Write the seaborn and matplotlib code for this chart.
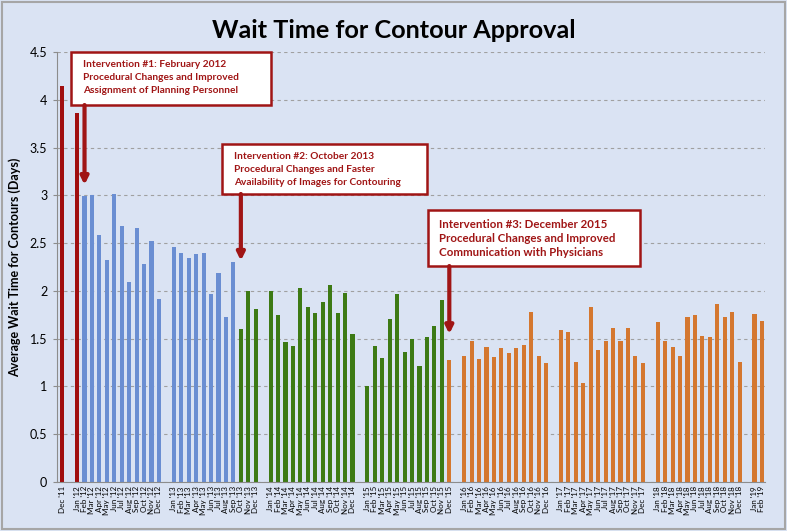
import numpy as np
import pandas as pd
import matplotlib.pyplot as plt
import seaborn as sns
from matplotlib.patches import Rectangle

# monthly average wait time (days)
wait_2011 = [4.14]
wait_2012 = [3.86, 2.99, 3.00, 2.58, 2.32, 3.01, 2.68, 2.09, 2.66, 2.28, 2.52, 1.91]
wait_2013 = [2.46, 2.40, 2.34, 2.39, 2.40, 1.97, 2.19, 1.73, 2.30, 1.60, 2.00, 1.81]
wait_2014 = [2.00, 1.75, 1.46, 1.42, 2.03, 1.83, 1.77, 1.88, 2.06, 1.77, 1.98, 1.55]
wait_2015 = [1.00, 1.42, 1.30, 1.71, 1.97, 1.36, 1.50, 1.21, 1.52, 1.63, 1.90, 1.28]
wait_2016 = [1.32, 1.48, 1.29, 1.41, 1.31, 1.40, 1.35, 1.40, 1.43, 1.78, 1.32, 1.24]
wait_2017 = [1.59, 1.57, 1.26, 1.04, 1.83, 1.38, 1.48, 1.61, 1.48, 1.61, 1.32, 1.24]
wait_2018 = [1.67, 1.48, 1.41, 1.32, 1.73, 1.75, 1.53, 1.52, 1.86, 1.73, 1.78, 1.26]
wait_2019 = [1.76, 1.68]

months = ['Jan', 'Feb', 'Mar', 'Apr', 'May', 'Jun', 'Jul', 'Aug', 'Sep', 'Oct', 'Nov', 'Dec']
year_blocks = [('11', months[11:], wait_2011), ('12', months, wait_2012), ('13', months, wait_2013),
               ('14', months, wait_2014), ('15', months, wait_2015), ('16', months, wait_2016),
               ('17', months, wait_2017), ('18', months, wait_2018), ('19', months[:2], wait_2019)]

# first month of each phase
phase_starts = ["Dec '11", "Feb '12", "Oct '13", "Dec '15"]
phases = ['baseline', 'int1', 'int2', 'int3']
phase_colors = {'baseline': '#A00E0E', 'int1': '#6A8ED2', 'int2': '#3D7A14', 'int3': '#D4772F'}

notes = [["Intervention #1: February 2012", "Procedural Changes and Improved", "Assignment of Planning Personnel"],
         ["Intervention #2: October 2013", "Procedural Changes and Faster", "Availability of Images for Contouring"],
         ["Intervention #3: December 2015", "Procedural Changes and Improved", "Communication with Physicians"]]

rows = []
phase = None
for i, (yr, mlist, vals) in enumerate(year_blocks):
    if i > 0:
        rows.append({'key': f'gap{i}', 'label': '', 'wait': np.nan, 'phase': None})
    for m, v in zip(mlist, vals):
        lab = f"{m} '{yr}"
        if lab in phase_starts:
            phase = phases[phase_starts.index(lab)]
        rows.append({'key': lab, 'label': lab, 'wait': v, 'phase': phase})
df = pd.DataFrame(rows)
keys = list(df['key'])

red = '#A01515'
bg = '#DAE3F3'

fig = plt.figure(figsize=(7.87, 5.31), dpi=100, facecolor=bg)
plt.rcParams['font.family'] = ['Lato', 'DejaVu Sans']
ax = fig.add_axes([0.0724, 0.0923, 0.8996, 0.8098])
ax.set_facecolor(bg)

sns.barplot(data=df.dropna(subset=['wait']), x='key', y='wait', hue='phase', order=keys,
            hue_order=phases, palette=phase_colors, dodge=False, width=0.55,
            saturation=1, legend=False, ax=ax)

ax.set_xlim(-0.7, len(keys) - 0.6)
ax.set_ylim(0, 4.5)
ax.set_yticks(np.arange(0, 4.51, 0.5))
ax.set_yticklabels(['0', '0.5', '1', '1.5', '2', '2.5', '3', '3.5', '4', '4.5'], fontsize=9)
ax.set_xticks(range(len(keys)))
ax.set_xticklabels(df['label'], rotation=90, fontsize=5.8)
ax.tick_params(axis='x', length=0, pad=3)
ax.tick_params(axis='y', length=3, color='#8C8C8C', pad=4)
ax.yaxis.grid(True, linestyle=(0, (3, 3)), color='#A0A0A0', linewidth=0.8)
ax.set_axisbelow(True)
for s in ['top', 'right']:
    ax.spines[s].set_visible(False)
ax.spines['left'].set_color('#8C8C8C')
ax.spines['bottom'].set_color('#8C8C8C')
ax.set_xlabel('')
ax.set_ylabel('Average Wait Time for Contours (Days)', fontsize=9, fontweight='bold', labelpad=6)
fig.text(0.5, 0.943, 'Wait Time for Contour Approval', ha='center', va='center',
         fontsize=18.2, fontweight='bold')

# annotation boxes, text and arrows
boxes = [(1.245, 3.945, 26.85, 0.555), (21.51, 3.014, 27.52, 0.523), (49.12, 2.26, 28.46, 0.586)]
text_pos = [(2.86, [4.364, 4.228, 4.092], 7.3), (23.08, [3.411, 3.275, 3.129], 7.3),
            (50.68, [2.697, 2.550, 2.400], 8.3)]
arrows = [(3, 3.945, 3.11), (24, 3.014, 2.316), (52, 2.26, 1.549)]
for (bx, by, bw, bh), (tx, tys, fs), (axx, y0, y1), lines in zip(boxes, text_pos, arrows, notes):
    ax.add_patch(Rectangle((bx, by), bw, bh, facecolor='white', edgecolor=red, lw=1.8,
                           clip_on=False, zorder=5))
    for ty, line in zip(tys, lines):
        ax.text(tx, ty, line, ha='left', va='center', fontsize=fs, fontweight='bold',
                color=red, zorder=6)
    ax.annotate('', xy=(axx, y1), xytext=(axx, y0), zorder=6,
                arrowprops=dict(arrowstyle='-|>', color=red, lw=3, mutation_scale=11,
                                shrinkA=0, shrinkB=0))

fig.add_artist(Rectangle((0.002, 0.004), 0.996, 0.992, transform=fig.transFigure,
                         facecolor='none', edgecolor='#A6A6A6', lw=1.5))
fig.savefig('out.png', dpi=100, facecolor=bg)
